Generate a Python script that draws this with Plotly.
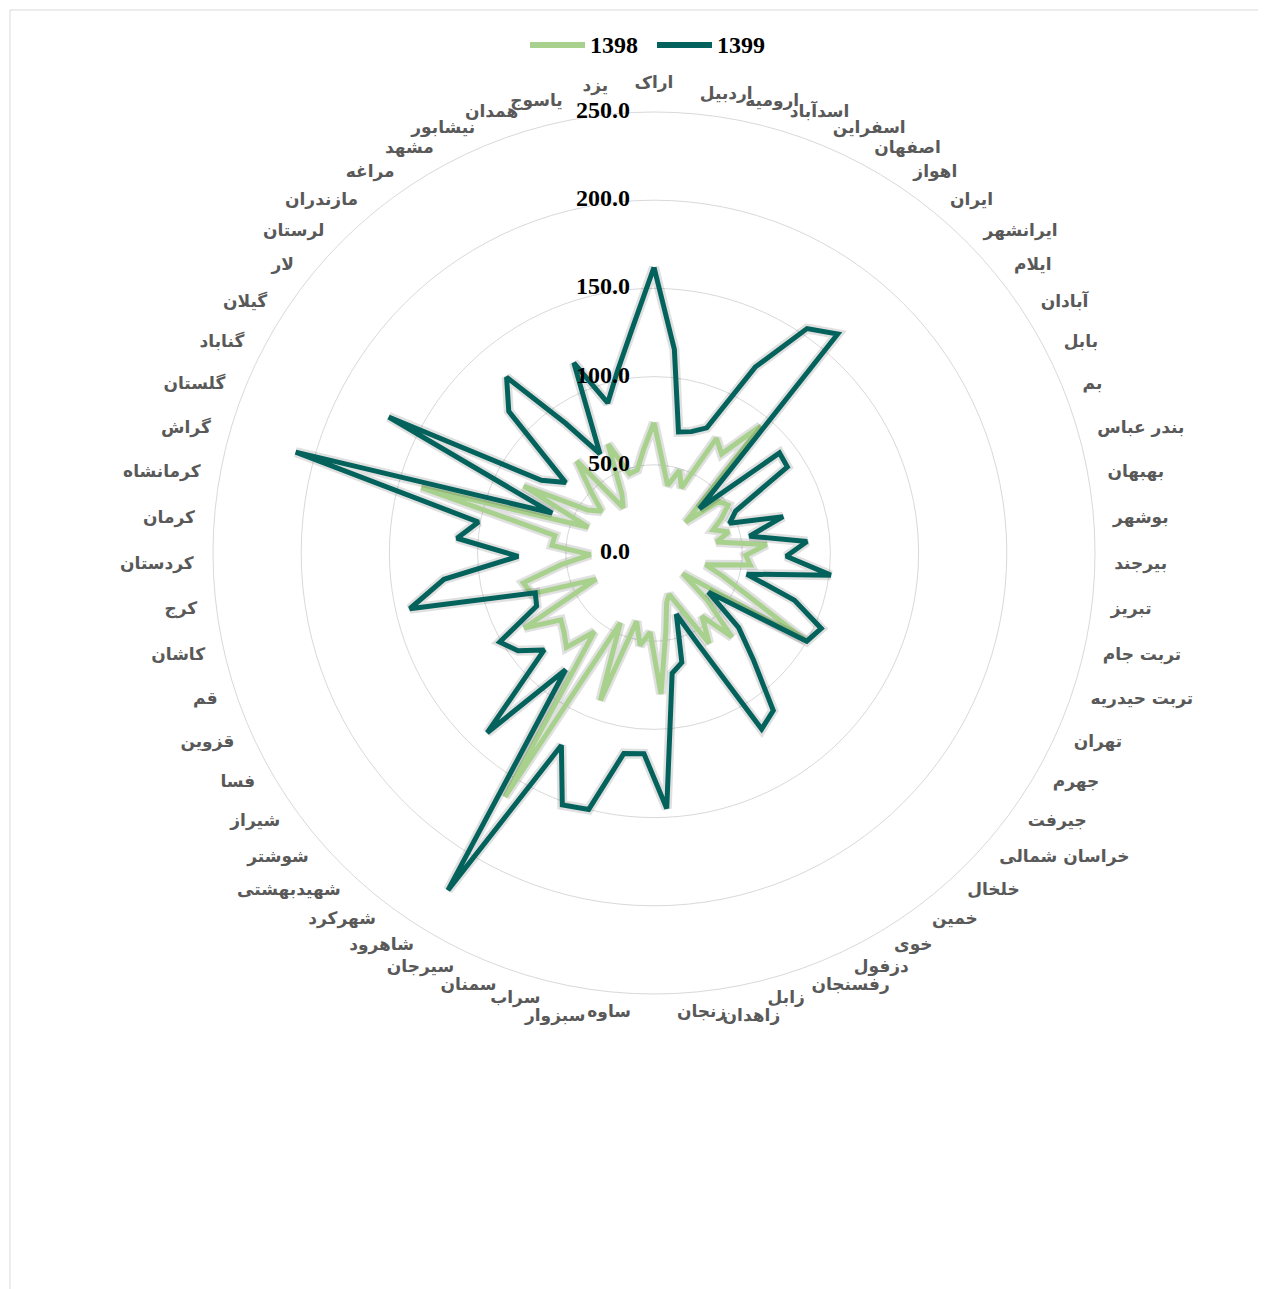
import plotly.graph_objects as go

categories = ["اراک", "اردبیل", "ارومیه", "اسدآباد", "اسفراین", "اصفهان", "اهواز", "ایران",
              "ایرانشهر", "ایلام", "آبادان", "بابل", "بم", "بندر عباس", "بهبهان", "بوشهر",
              "بیرجند", "تبریز", "تربت جام", "تربت حیدریه", "تهران", "جهرم", "جیرفت",
              "خراسان شمالی", "خلخال", "خمین", "خوی", "دزفول", "رفسنجان", "زابل", "زاهدان",
              "زنجان", "ساوه", "سبزوار", "سراب", "سمنان", "سیرجان", "شاهرود", "شهرکرد",
              "شهیدبهشتی", "شوشتر", "شیراز", "فسا", "قزوین", "قم", "کاشان", "کرج", "کردستان",
              "کرمان", "کرمانشاه", "گراش", "گلستان", "گناباد", "گیلان", "لار", "لرستان",
              "مازندران", "مراغه", "مشهد", "نیشابور", "همدان", "یاسوج", "یزد"]

values_1398 = [74, 51, 39, 49, 40, 74, 68, 94, 25, 47, 50, 43, 36, 44, 36, 64,
               52, 55, 30, 41, 58, 99, 20, 40, 65, 45, 60, 35, 25, 29, 45,
               80, 45, 53, 40, 89, 44, 162, 56, 73, 68, 65, 85, 36, 73, 76, 53, 36,
               58, 57, 137, 40, 83, 45, 38, 50, 68, 31, 38, 67, 47, 48, 59]

values_1399 = [162, 116, 70, 72, 77, 120, 154, 162, 36, 91, 90, 52, 46, 76, 55, 87,
               75, 101, 54, 84, 104, 100, 38, 64, 83, 112, 117, 57, 37, 64, 69,
               145, 114, 115, 150, 152, 121, 224, 83, 139, 83, 95, 101, 73, 71, 142, 120, 77,
               112, 101, 211, 62, 169, 76, 64, 115, 130, 89, 64, 117, 89, 105, 127]

radial_ticks = [0, 50, 100, 150, 200, 250]
radial_tick_text = ["0.0", "50.0", "100.0", "150.0", "200.0", "250.0"]

series = [("1398", values_1398, "#A9D18E"), ("1399", values_1399, "#03625B")]

W, H = 1266, 1289
cx, cy = 646, 545          # polar centre in figure pixels
R250 = 441                 # pixel radius of the 250 circle
RMAX = 262                 # axis range extended so that category labels fit inside
R = R250 * RMAX / 250
LABEL_R = 261

fig = go.Figure()

for name, vals, color in series:
    fig.add_trace(go.Scatterpolar(
        r=vals + vals[:1], theta=categories + categories[:1], mode="lines",
        line=dict(color="rgba(0,0,0,0.12)", width=10),
        showlegend=False, hoverinfo="skip"))
    fig.add_trace(go.Scatterpolar(
        r=vals + vals[:1], theta=categories + categories[:1], mode="lines",
        name=name, line=dict(color=color, width=5), showlegend=False))

pad = "\u00a0" * 4
fig.add_trace(go.Scatterpolar(
    r=radial_ticks, theta=[categories[0]] * len(radial_ticks), mode="text",
    text=[t + pad for t in radial_tick_text], textposition="middle left",
    textfont=dict(family="Liberation Serif", size=24, color="#000000", weight="bold"),
    showlegend=False, hoverinfo="skip", cliponaxis=False))

# category labels: right half left-aligned, left half right-aligned (as in the original);
# a few crowded labels are nudged vertically so they do not collide
nudge = {"زاهدان": "bottom", "سبزوار": "bottom", "یزد": "top"}
n = len(categories)
positions = []
for i, name in enumerate(categories):
    ang = 360.0 * i / n
    if ang == 0:
        positions.append("top center")
        continue
    side = "right" if ang < 180 else "left"
    positions.append(f"{nudge.get(name, 'middle')} {side}")
fig.add_trace(go.Scatterpolar(
    r=[LABEL_R] * n, theta=categories, mode="text", text=categories,
    textposition=positions, cliponaxis=False,
    textfont=dict(family="DejaVu Sans", size=17, color="#595959", weight="bold"),
    showlegend=False, hoverinfo="skip"))

legend_items = [("1398", "#A9D18E", 522), ("1399", "#03625B", 649)]
shapes = [dict(type="rect", xref="paper", yref="paper", x0=2 / W, x1=1257 / W,
               y0=-0.01, y1=1 - 2 / H, line=dict(color="#D9D9D9", width=1))]
annotations = []
ly = 1 - 37 / H
for label, color, x0 in legend_items:
    shapes.append(dict(type="line", xref="paper", yref="paper",
                       x0=x0 / W, x1=(x0 + 55) / W, y0=ly, y1=ly,
                       line=dict(color=color, width=6)))
    annotations.append(dict(xref="paper", yref="paper", x=(x0 + 58) / W, y=ly,
                            xanchor="left", yanchor="middle", showarrow=False, text=label,
                            font=dict(family="Liberation Serif", size=24, color="#000000",
                                      weight="bold")))

fig.update_layout(
    width=W, height=H,
    margin=dict(l=0, r=0, t=0, b=0),
    paper_bgcolor="white",
    plot_bgcolor="white",
    showlegend=False,
    polar=dict(
        domain=dict(x=[(cx - R) / W, (cx + R) / W], y=[(H - cy - R) / H, (H - cy + R) / H]),
        bgcolor="rgba(0,0,0,0)",
        radialaxis=dict(range=[0, RMAX], tickvals=radial_ticks, showticklabels=False,
                        showline=False, gridcolor="#D9D9D9", gridwidth=1.3, ticks=""),
        angularaxis=dict(direction="clockwise", rotation=90, type="category",
                         categoryorder="array", categoryarray=categories,
                         showgrid=False, showline=False, ticks="", showticklabels=False),
    ),
    shapes=shapes,
    annotations=annotations,
)

fig.write_html("out.html")
